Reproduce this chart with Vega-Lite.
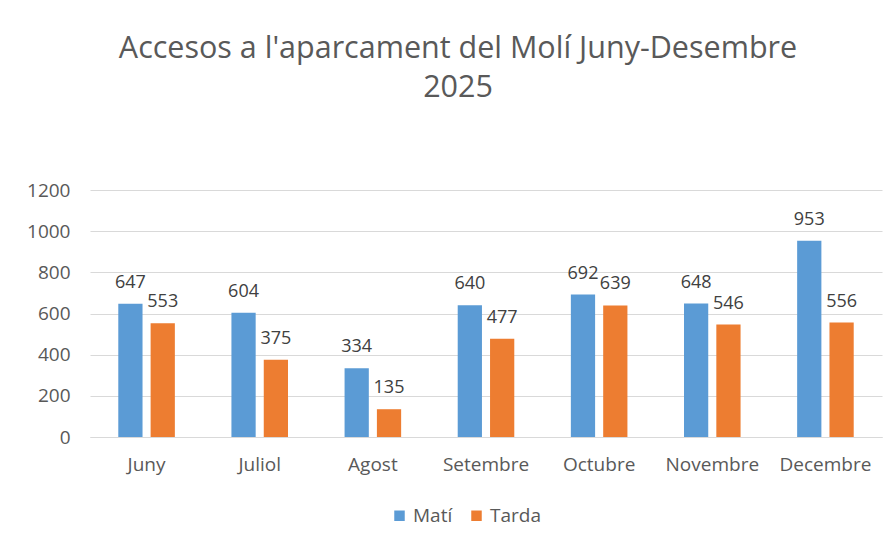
{
  "$schema": "https://vega.github.io/schema/vega-lite/v6.json",
  "width": 792,
  "height": 247,
  "autosize": {"type": "none"},
  "padding": {"left": 90, "top": 190, "right": 12, "bottom": 106},
  "background": "white",
  "config": {"view": {"stroke": null}, "font": "Open Sans"},
  "title": {
    "text": ["Accesos a l'aparcament del Molí Juny-Desembre", "2025"],
    "font": "Open Sans",
    "fontSize": 30.5,
    "fontWeight": "normal",
    "color": "#595959",
    "anchor": "middle",
    "frame": "group",
    "offset": 78,
    "dx": -28,
    "lineHeight": 39
  },
  "data": {
    "values": [
      {"mes": "Juny", "torn": "Matí", "valor": 647},
      {"mes": "Juny", "torn": "Tarda", "valor": 553},
      {"mes": "Juliol", "torn": "Matí", "valor": 604},
      {"mes": "Juliol", "torn": "Tarda", "valor": 375},
      {"mes": "Agost", "torn": "Matí", "valor": 334},
      {"mes": "Agost", "torn": "Tarda", "valor": 135},
      {"mes": "Setembre", "torn": "Matí", "valor": 640},
      {"mes": "Setembre", "torn": "Tarda", "valor": 477},
      {"mes": "Octubre", "torn": "Matí", "valor": 692},
      {"mes": "Octubre", "torn": "Tarda", "valor": 639},
      {"mes": "Novembre", "torn": "Matí", "valor": 648},
      {"mes": "Novembre", "torn": "Tarda", "valor": 546},
      {"mes": "Decembre", "torn": "Matí", "valor": 953},
      {"mes": "Decembre", "torn": "Tarda", "valor": 556}
    ]
  },
  "encoding": {
    "x": {
      "field": "mes",
      "type": "nominal",
      "sort": ["Juny", "Juliol", "Agost", "Setembre", "Octubre", "Novembre", "Decembre"],
      "scale": {"paddingInner": 0.5, "paddingOuter": 0.25},
      "axis": {
        "title": null,
        "labelAngle": 0,
        "labelFont": "Open Sans",
        "labelFontSize": 19,
        "labelColor": "#595959",
        "labelPadding": 18,
        "ticks": false,
        "domainColor": "#d9d9d9",
        "domainWidth": 1
      }
    },
    "xOffset": {
      "field": "torn",
      "type": "nominal",
      "sort": ["Matí", "Tarda"],
      "scale": {"paddingInner": 0.25, "paddingOuter": 0}
    },
    "y": {
      "field": "valor",
      "type": "quantitative",
      "scale": {"domain": [0, 1200]},
      "axis": {
        "title": null,
        "values": [0, 200, 400, 600, 800, 1000, 1200],
        "format": "d",
        "domain": false,
        "ticks": false,
        "gridColor": "#d9d9d9",
        "labelFont": "Open Sans",
        "labelFontSize": 19,
        "labelColor": "#595959",
        "labelPadding": 20
      }
    }
  },
  "layer": [
    {
      "mark": {"type": "bar"},
      "encoding": {
        "color": {
          "field": "torn",
          "type": "nominal",
          "sort": ["Matí", "Tarda"],
          "scale": {"domain": ["Matí", "Tarda"], "range": ["#5B9BD5", "#ED7D31"]},
          "legend": {
            "title": null,
            "orient": "none",
            "direction": "horizontal",
            "legendX": 300,
            "legendY": 316,
            "symbolType": "square",
            "symbolSize": 110,
            "symbolStrokeWidth": 0,
            "labelFont": "Open Sans",
            "labelFontSize": 19,
            "labelColor": "#595959",
            "labelOffset": 4,
            "columnPadding": 14
          }
        }
      }
    },
    {
      "mark": {"type": "text", "baseline": "alphabetic", "dy": -16, "font": "Open Sans", "fontSize": 18, "color": "#404040"},
      "encoding": {
        "text": {"field": "valor", "type": "quantitative", "format": "d"}
      }
    }
  ]
}
